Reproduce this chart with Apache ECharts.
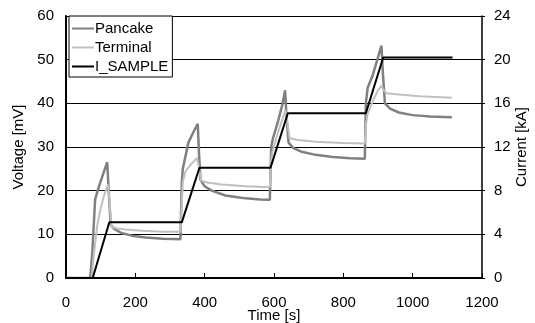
<!DOCTYPE html>
<html>
<head>
<meta charset="utf-8">
<script src="https://cdn.jsdelivr.net/npm/echarts@6/dist/echarts.min.js"></script>
<style>
  html, body { margin: 0; padding: 0; background: #fff; }
  #chart { width: 535px; height: 323px; }
</style>
</head>
<body>
<div id="chart"></div>
<script>
// Pancake 電圧 [mV]
const pancakeTime = [0, 70, 76, 84, 95, 108, 119, 123, 129, 140, 160, 190, 230, 280, 330,
  334, 337, 353, 368, 380, 384, 388, 400, 420, 460, 510, 560, 588,
  592, 597, 612, 625, 632, 636, 642, 655, 680, 720, 770, 820, 862,
  865, 870, 885, 898, 910, 914, 920, 935, 960, 1000, 1050, 1113];
const pancakeVolt = [0, 0, 6, 18, 21, 24, 26.5, 20, 12.2, 11.2, 10.3, 9.7, 9.3, 9.0, 8.9,
  22, 25, 31, 33.5, 35.3, 28, 22.5, 21, 20, 18.9, 18.3, 18.0, 17.9,
  30, 32, 36, 40, 43, 37, 31, 29.8, 28.9, 28.2, 27.7, 27.4, 27.3,
  40, 43.5, 46.5, 50, 53.2, 47, 40, 38.8, 37.9, 37.3, 37.0, 36.8];

// Terminal 電圧 [mV]
const terminalTime = [0, 74, 80, 90, 100, 110, 121, 126, 131, 145, 170, 220, 280, 330,
  334, 337, 345, 360, 378, 384, 390, 410, 450, 520, 588,
  592, 596, 610, 625, 633, 638, 645, 670, 720, 800, 862,
  865, 870, 885, 900, 910, 916, 925, 960, 1020, 1113];
const terminalVolt = [0, 0, 5, 12, 16, 19, 21.4, 17, 11.8, 11.4, 11.1, 10.8, 10.6, 10.6,
  17, 22, 24.5, 26, 27.5, 25, 22.3, 21.8, 21.4, 21.0, 20.8,
  27, 29, 33, 36.5, 38.5, 36, 32, 31.6, 31.2, 30.9, 30.8,
  35, 37.5, 40.5, 43, 44, 43, 42.3, 42, 41.6, 41.3];

// I_SAMPLE 電流 [kA]
const currentTime = [0, 77, 125, 334, 385, 590, 640, 865, 915, 1115];
const currentKA = [0, 0, 5.1, 5.1, 10.1, 10.1, 15.1, 15.1, 20.2, 20.2];

const zip = (ts, vs) => ts.map((t, i) => [t, vs[i]]);

const FONT = 'Liberation Sans';
const FS = 15;
const chart = echarts.init(document.getElementById('chart'));

chart.setOption({
  animation: false,
  textStyle: { fontFamily: FONT },
  grid: { left: 66, right: 53, top: 16, bottom: 45, outerBoundsMode: 'none' },
  legend: {
    orient: 'vertical',
    left: 69,
    top: 16,
    padding: [5, 4, 3, 3],
    itemGap: 4,
    itemWidth: 22,
    itemHeight: 2,
    icon: 'rect',
    backgroundColor: '#fff',
    borderColor: '#000',
    borderWidth: 1,
    borderRadius: 0,
    textStyle: { fontFamily: FONT, fontSize: FS, color: '#000', padding: [0, 0, 0, -4] },
    data: ['Pancake', 'Terminal', 'I_SAMPLE'],
  },
  xAxis: {
    type: 'value',
    min: 0,
    max: 1200,
    interval: 200,
    name: 'Time [s]',
    nameLocation: 'middle',
    nameGap: 30,
    nameMoveOverlap: false,
    nameTextStyle: { fontSize: FS, color: '#000' },
    axisLine: { lineStyle: { color: '#000', width: 2 } },
    axisTick: { inside: true, length: 5, lineStyle: { color: '#000' } },
    axisLabel: { fontSize: FS, color: '#000', margin: 17, formatter: v => String(v) },
    splitLine: { show: false },
  },
  yAxis: [
    {
      type: 'value',
      min: 0,
      max: 60,
      interval: 10,
      name: 'Voltage [mV]',
      nameLocation: 'middle',
      nameGap: 40,
      nameMoveOverlap: false,
      nameTextStyle: { fontSize: FS, color: '#000' },
      axisLine: { show: true, lineStyle: { color: '#000', width: 2 } },
      axisTick: { show: false },
      axisLabel: { fontSize: FS, color: '#000', margin: 12 },
      splitLine: { lineStyle: { color: '#000', width: 1 } },
    },
    {
      type: 'value',
      min: 0,
      max: 24,
      interval: 4,
      position: 'right',
      name: 'Current [kA]',
      nameLocation: 'middle',
      nameGap: 32,
      nameMoveOverlap: false,
      nameRotate: 90,
      nameTextStyle: { fontSize: FS, color: '#000' },
      axisLine: { show: true, lineStyle: { color: '#000', width: 1.5 } },
      axisTick: { show: true, length: 3, lineStyle: { color: '#000' } },
      axisLabel: { fontSize: FS, color: '#000', margin: 12 },
      splitLine: { show: false },
    },
  ],
  series: [
    {
      name: 'Pancake',
      type: 'line',
      yAxisIndex: 0,
      data: zip(pancakeTime, pancakeVolt),
      symbol: 'none',
      lineStyle: { color: '#808080', width: 2.5 },
      itemStyle: { color: '#808080' },
      z: 2,
    },
    {
      name: 'Terminal',
      type: 'line',
      yAxisIndex: 0,
      data: zip(terminalTime, terminalVolt),
      symbol: 'none',
      lineStyle: { color: '#c0c0c0', width: 2 },
      itemStyle: { color: '#c0c0c0' },
      z: 3,
    },
    {
      name: 'I_SAMPLE',
      type: 'line',
      yAxisIndex: 1,
      data: zip(currentTime, currentKA),
      symbol: 'none',
      lineStyle: { color: '#000', width: 2 },
      itemStyle: { color: '#000' },
      z: 4,
    },
  ],
});
</script>
</body>
</html>
